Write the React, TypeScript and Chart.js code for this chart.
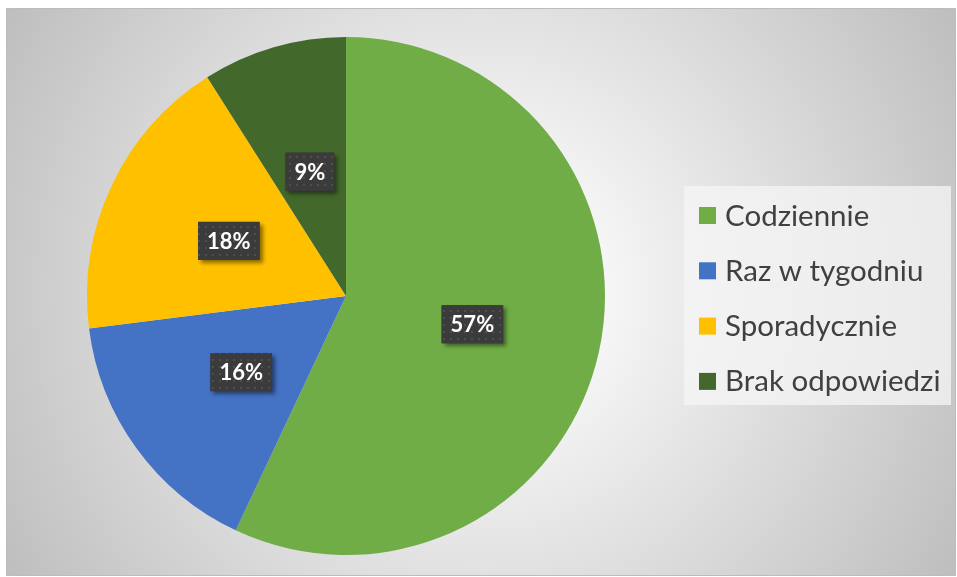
import React, { useEffect, useRef } from "react";
import { Chart, registerables } from "chart.js";

Chart.register(...registerables);

const categories = ["Codziennie", "Raz w tygodniu", "Sporadycznie", "Brak odpowiedzi"];
const values = [57, 16, 18, 9];
const colors = ["#70AD47", "#4472C4", "#FFC000", "#43682B"];

const W = 957;
const H = 577;

function makePattern(ctx: CanvasRenderingContext2D) {
  const c = document.createElement("canvas");
  c.width = 7;
  c.height = 7;
  const p = c.getContext("2d")!;
  p.fillStyle = "#3b3b3b";
  p.fillRect(0, 0, 7, 7);
  p.fillStyle = "#4e4e4e";
  p.fillRect(2, 2, 2, 2);
  return ctx.createPattern(c, "repeat");
}

const bgPlugin = {
  id: "bgFrame",
  beforeDraw(chart: any) {
    const ctx = chart.ctx as CanvasRenderingContext2D;
    ctx.save();
    const g = ctx.createRadialGradient(480, 292, 0, 480, 292, 560);
    g.addColorStop(0, "#ffffff");
    g.addColorStop(0.15, "#fbfbfb");
    g.addColorStop(1, "#bdbdbd");
    ctx.fillStyle = g;
    ctx.fillRect(6, 8, 950, 568);
    ctx.strokeStyle = "#bcbcbc";
    ctx.lineWidth = 1;
    ctx.strokeRect(6.5, 8.5, 949, 567);
    ctx.restore();
  },
};

const labelPlugin = {
  id: "pctLabels",
  afterDatasetsDraw(chart: any) {
    const ctx = chart.ctx as CanvasRenderingContext2D;
    const meta = chart.getDatasetMeta(0);
    const data = chart.data.datasets[0].data as number[];
    const total = data.reduce((a, b) => a + b, 0);
    const pattern = makePattern(ctx);
    ctx.save();
    ctx.font = "bold 22px Lato";
    meta.data.forEach((arc: any, i: number) => {
      const pt = arc.getCenterPoint();
      const text = Math.round((data[i] / total) * 100) + "%";
      const tw = ctx.measureText(text).width;
      const bw = tw + 18;
      const bh = 38;
      const x = pt.x - bw / 2;
      const y = pt.y - bh / 2;
      ctx.save();
      ctx.shadowColor = "rgba(0,0,0,0.45)";
      ctx.shadowBlur = 4;
      ctx.shadowOffsetX = 3;
      ctx.shadowOffsetY = 3;
      ctx.fillStyle = "#3b3b3b";
      ctx.fillRect(x, y, bw, bh);
      ctx.restore();
      if (pattern) {
        ctx.fillStyle = pattern;
        ctx.fillRect(x, y, bw, bh);
      }
      ctx.fillStyle = "#ffffff";
      ctx.textAlign = "center";
      ctx.textBaseline = "middle";
      ctx.fillText(text, pt.x, pt.y + 1);
    });
    ctx.restore();
  },
};

const legendPlugin = {
  id: "customLegend",
  afterDraw(chart: any) {
    const ctx = chart.ctx as CanvasRenderingContext2D;
    const labels = chart.data.labels as string[];
    const bg = chart.data.datasets[0].backgroundColor as string[];
    ctx.save();
    ctx.fillStyle = "rgba(245,245,245,0.75)";
    ctx.fillRect(684, 186, 267, 219);
    ctx.font = "29.5px Lato";
    ctx.textBaseline = "middle";
    ctx.textAlign = "left";
    labels.forEach((l, i) => {
      const cy = 215 + i * 55.3;
      ctx.fillStyle = bg[i];
      ctx.fillRect(699, cy - 8, 17, 17);
      ctx.fillStyle = "#404040";
      ctx.fillText(l, 725, cy + 1);
    });
    ctx.restore();
  },
};

export default function App() {
  const ref = useRef<HTMLCanvasElement>(null);
  useEffect(() => {
    if (!ref.current) return;
    const chart = new Chart(ref.current, {
      type: "pie",
      data: {
        labels: categories,
        datasets: [
          {
            data: values,
            backgroundColor: colors,
            borderWidth: 0,
          },
        ],
      },
      options: {
        animation: false,
        responsive: false,
        layout: { padding: { left: 87, right: 352, top: 37, bottom: 22 } },
        plugins: {
          legend: { display: false },
          tooltip: { enabled: false },
        },
      },
      plugins: [bgPlugin, labelPlugin, legendPlugin],
    });
    return () => chart.destroy();
  }, []);
  return (
    <div style={{ position: "fixed", left: 0, top: 0, width: W, height: H, background: "#ffffff" }}>
      <canvas ref={ref} width={W} height={H} style={{ width: W, height: H, display: "block" }} />
    </div>
  );
}
